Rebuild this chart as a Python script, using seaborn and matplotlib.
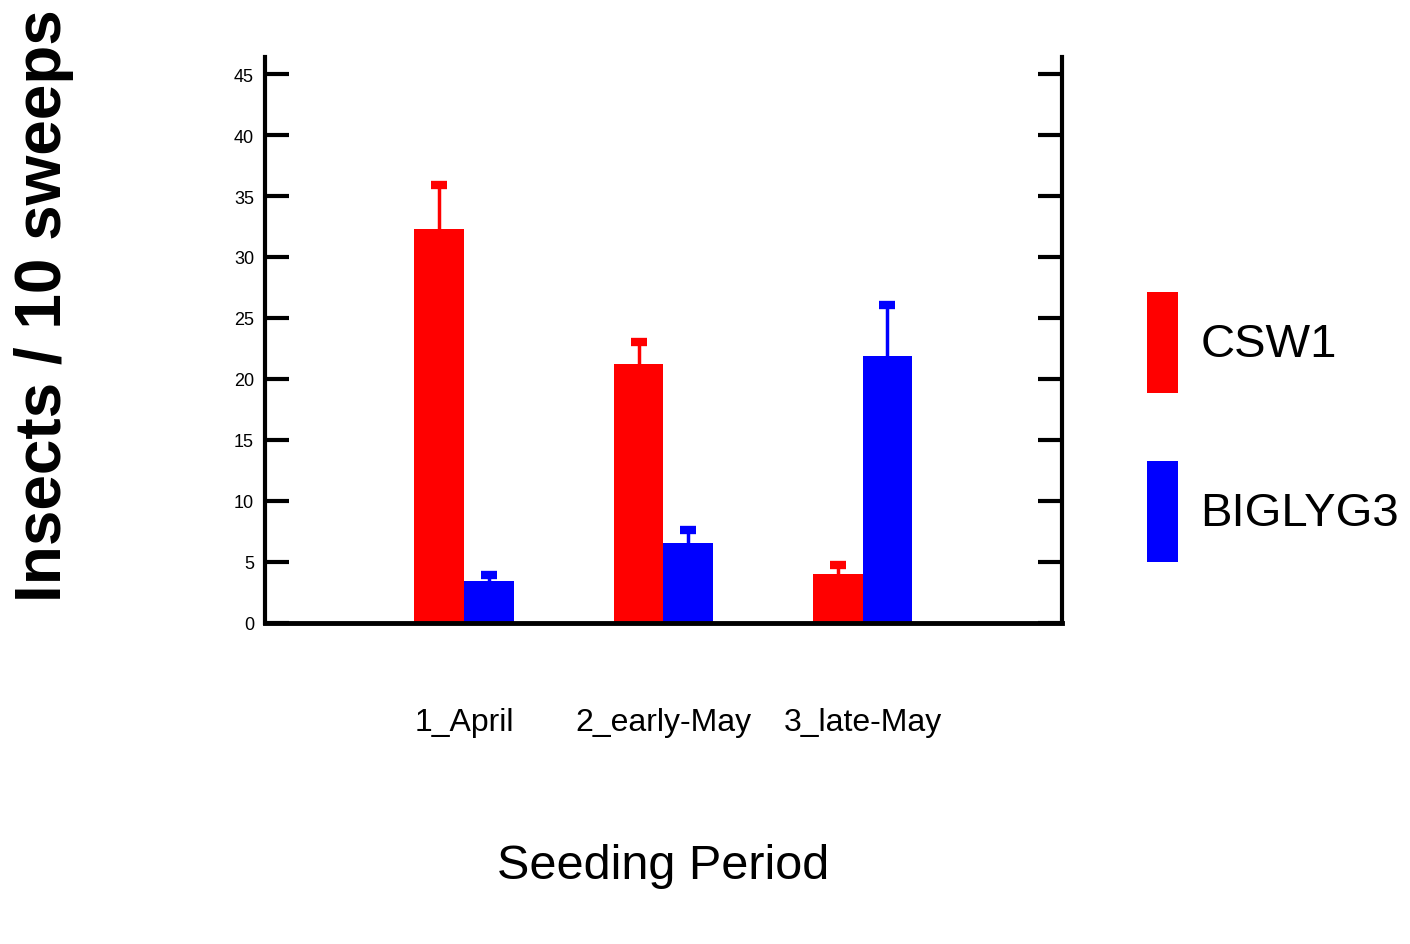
import matplotlib
matplotlib.use("Agg")
import matplotlib.pyplot as plt
import seaborn as sns
import pandas as pd

periods = ["1_April", "2_early-May", "3_late-May"]
varieties = ["CSW1", "BIGLYG3"]
csw1 = [32.3, 21.2, 4.0]
biglyg3 = [3.4, 6.5, 21.9]
csw1_err = [3.6, 1.8, 0.7]
biglyg3_err = [0.5, 1.1, 4.2]
yticks = [0, 5, 10, 15, 20, 25, 30, 35, 40, 45]
colors = {"CSW1": "#ff0000", "BIGLYG3": "#0000ff"}

df = pd.DataFrame({
    "period": periods * 2,
    "variety": ["CSW1"] * 3 + ["BIGLYG3"] * 3,
    "value": csw1 + biglyg3,
    "err": csw1_err + biglyg3_err,
})

sns.set_style("white")
plt.rcParams["font.family"] = ["Liberation Sans", "DejaVu Sans"]
for k in ["text.color", "axes.labelcolor", "xtick.color", "ytick.color"]:
    plt.rcParams[k] = "black"

fig = plt.figure(figsize=(14.1, 9.45), dpi=100)
ax = fig.add_axes([0.188, 0.340, 0.565, 0.5986])

sns.barplot(data=df, x="period", y="value", hue="variety", order=periods,
            hue_order=varieties, palette=colors, width=0.5, saturation=1,
            errorbar=None, ax=ax, linewidth=0)

# error bars (upper only), positioned from the bar patches
for cont, var in zip(ax.containers, varieties):
    sub = df[df.variety == var].set_index("period").loc[periods]
    for patch, e in zip(cont.patches, sub["err"].values):
        xc = patch.get_x() + patch.get_width() / 2
        h = patch.get_height()
        eb = ax.errorbar(xc, h, yerr=[[0], [e]], fmt="none", ecolor=colors[var],
                         elinewidth=2.5, capsize=6, capthick=6, zorder=3)
        eb[1][0].set_visible(False)

ax.set_xlim(-1, 3)
ax.set_ylim(0, 46.4)
ax.set_yticks(yticks)
ax.set_yticklabels([str(t) for t in yticks], fontsize=13)
ax.tick_params(axis="y", direction="in", length=17, width=3, left=True,
               right=True, pad=8, color="black")
ax.tick_params(axis="x", length=0, pad=61, labelsize=23)

for s in ["left", "right", "bottom"]:
    ax.spines[s].set_visible(True)
    ax.spines[s].set_color("black")
ax.spines["left"].set_linewidth(3)
ax.spines["right"].set_linewidth(3)
ax.spines["bottom"].set_linewidth(3.5)
ax.spines["top"].set_visible(False)

ax.set_xlabel("Seeding Period", fontsize=35, labelpad=76)
ax.set_ylabel("")
fig.text(0.0315, 0.677, "Insects / 10 sweeps", rotation=90, fontsize=46,
         fontweight="bold", ha="center", va="center")

ax.legend(loc="center left", bbox_to_anchor=(1.107, 0.346), frameon=False,
          fontsize=34, handlelength=0.66, handleheight=2.93,
          handletextpad=0.47, labelspacing=1.43, borderaxespad=0, borderpad=0)

fig.savefig("out.png", dpi=100)
